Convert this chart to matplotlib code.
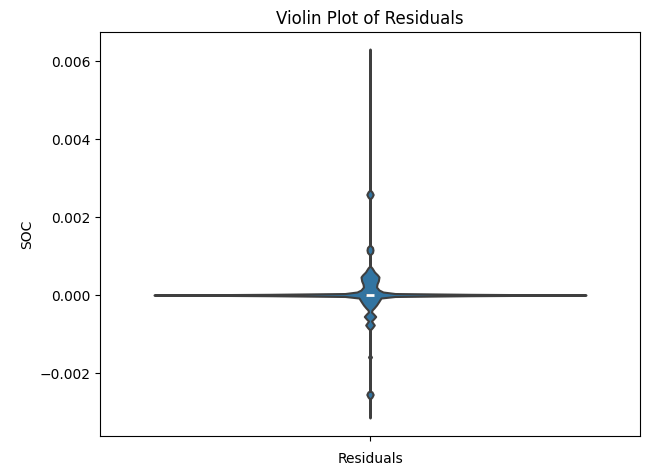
import matplotlib
matplotlib.use("Agg")
import matplotlib.pyplot as plt
import numpy as np

# ===== Data =====
CATEGORY = "Residuals"

# Violin outline: SOC level and relative half-width (density) at that level
PROFILE_Y = [
    0.006308,
    0.002692, 0.002641, 0.002577, 0.002513, 0.002462,
    0.001282, 0.001218, 0.001154, 0.001090, 0.001026,
    0.000744, 0.000692, 0.000590, 0.000513, 0.000462, 0.000359,
    0.000282, 0.000205, 0.000128, 0.000077, 0.000038, 0.000018,
    0.0,
    -0.000018, -0.000038, -0.000077, -0.000179, -0.000256, -0.000333,
    -0.000385, -0.000436, -0.000487, -0.000551, -0.000615, -0.000667,
    -0.000705, -0.000769, -0.000833, -0.000897,
    -0.001538, -0.001590, -0.001641,
    -0.002462, -0.002487, -0.002551, -0.002615, -0.002667,
    -0.003154,
]
PROFILE_DENSITY = [
    0.0,
    0.2, 2.0, 3.2, 2.0, 0.2,
    0.2, 2.5, 3.0, 2.5, 0.2,
    0.2, 2.0, 4.5, 7.5, 9.0, 8.3,
    7.0, 6.5, 9.0, 13.0, 25.0, 100.0,
    216.0,
    100.0, 25.0, 11.0, 8.5, 6.5, 4.0,
    2.0, 1.5, 3.5, 5.7, 3.5, 1.5,
    2.5, 4.3, 2.5, 0.2,
    0.2, 1.5, 0.2,
    0.2, 2.0, 3.2, 2.0, 0.2,
    0.0,
]

Q1 = -0.00002
MEDIAN = 0.0
Q3 = 0.00003

# ===== Style =====
FILL = "#3274a1"
EDGE = "#3f3f3f"
MAX_HALF_WIDTH = 0.4


def main():
    fig = plt.figure(figsize=(6.54, 4.68), dpi=100)
    ax = fig.add_axes([0.1529, 0.0684, 0.8257, 0.8632])

    y = np.array(PROFILE_Y)
    dens = np.array(PROFILE_DENSITY)
    half = dens / dens.max() * MAX_HALF_WIDTH

    ax.fill_betweenx(y, -half, half, facecolor=FILL, edgecolor=EDGE,
                     linewidth=1.5, zorder=1)

    # inner box
    ax.plot([0, 0], [Q1, Q3], color=EDGE, linewidth=6, solid_capstyle="butt", zorder=2)
    ax.plot([0], [MEDIAN], marker="_", color="white", markersize=6,
            markeredgewidth=2, zorder=3)

    ax.set_xlim(-0.5, 0.5)
    ax.set_ylim(-0.003615, 0.006744)
    ax.set_xticks([0])
    ax.set_xticklabels([CATEGORY])
    ax.tick_params(axis="x", pad=8)
    ax.set_ylabel("SOC")
    ax.set_title("Violin Plot of Residuals")

    fig.savefig("out.png", dpi=100)


if __name__ == "__main__":
    main()
